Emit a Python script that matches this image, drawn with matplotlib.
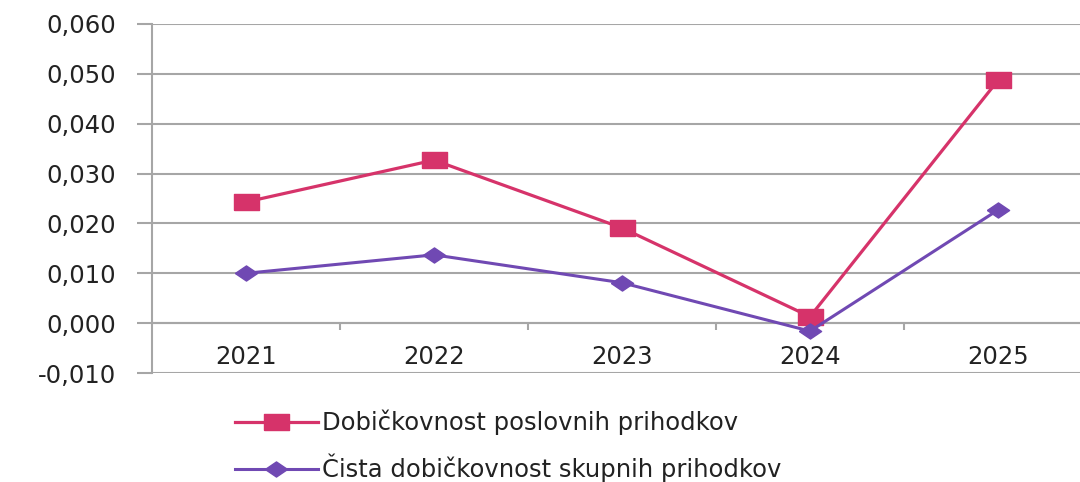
import matplotlib.pyplot as plt
from matplotlib.ticker import FixedLocator, FuncFormatter
import numpy as np

years = ['2021', '2022', '2023', '2024', '2025']
poslovni = [0.0243, 0.0327, 0.0191, 0.0013, 0.0487]
cista = [0.0100, 0.0137, 0.0081, -0.0016, 0.0227]
labels = ['Dobičkovnost poslovnih prihodkov', 'Čista dobičkovnost skupnih prihodkov']

pink = '#D6336A'
purple = '#7049B3'
grid_c = '#A6A6A6'
text_c = '#222222'

plt.rcParams['font.family'] = ['DejaVu Sans']

# markers are wide because the original picture is stretched horizontally
rect = [(-1, -0.64), (1, -0.64), (1, 0.64), (-1, 0.64), (-1, -0.64)]
diam = [(-1, 0), (0, 0.68), (1, 0), (0, -0.68), (-1, 0)]

fig = plt.figure(figsize=(10.8, 4.82), dpi=100)
ax = fig.add_axes([152 / 1080, 1 - 373 / 482, 940 / 1080, 349 / 482])

x = np.arange(len(years))
ax.plot(x, poslovni, color=pink, lw=2.3, marker=rect, ms=18, label=labels[0], zorder=3)
ax.plot(x, cista, color=purple, lw=2.2, marker=diam, ms=16, label=labels[1], zorder=3)

ax.set_xlim(-0.5, 4.5)
ax.set_ylim(-0.010, 0.060)
ax.set_yticks(np.arange(-0.010, 0.0601, 0.010))
ax.yaxis.set_major_formatter(FuncFormatter(lambda v, p: f'{v:.3f}'.replace('.', ',').replace('-0,000', '0,000')))
ax.grid(axis='y', color=grid_c, lw=1.5)
ax.set_axisbelow(True)

for s in ['top', 'right']:
    ax.spines[s].set_visible(False)
ax.spines['left'].set_color(grid_c)
ax.spines['left'].set_linewidth(1.5)
ax.spines['bottom'].set_position(('data', 0))
ax.spines['bottom'].set_color(grid_c)
ax.spines['bottom'].set_linewidth(1.5)

ax.set_xticks(x)
ax.set_xticklabels(years)
ax.xaxis.set_minor_locator(FixedLocator(x[:-1] + 0.5))
ax.tick_params(axis='x', which='major', length=0, pad=16, labelsize=17.5, labelcolor=text_c)
ax.tick_params(axis='x', which='minor', length=5, width=1.5, color=grid_c, direction='out')
ax.tick_params(axis='y', length=11, width=1.5, color=grid_c, pad=15, labelsize=17.5, labelcolor=text_c)

fig.legend(loc='center left', bbox_to_anchor=(235 / 1080, 1 - 446 / 482), frameon=False,
           fontsize=17.5, handlelength=3.4, handletextpad=0.2, labelspacing=0.75,
           borderpad=0, borderaxespad=0, labelcolor=text_c)

fig.savefig('out.png', dpi=100)
